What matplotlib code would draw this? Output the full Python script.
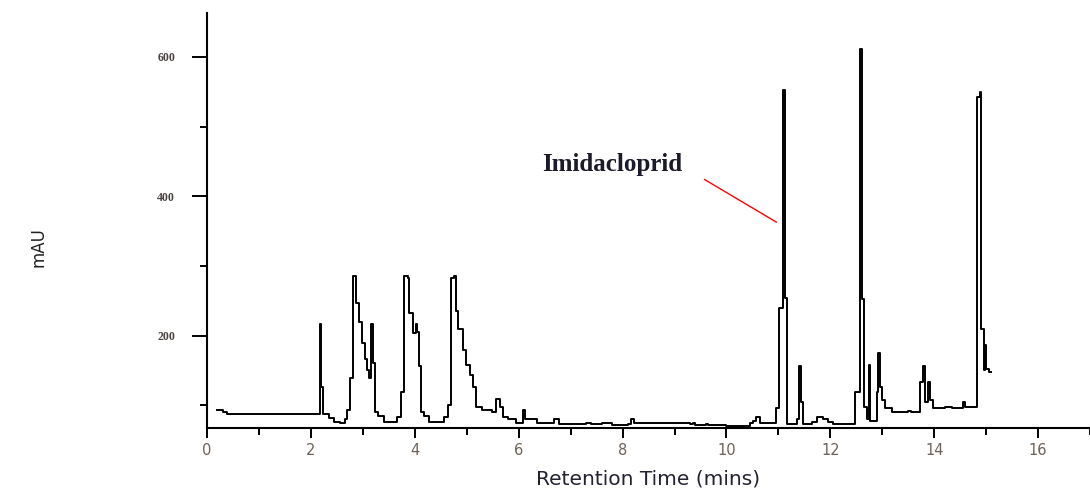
import matplotlib.pyplot as plt
from matplotlib.ticker import MultipleLocator

# chromatogram (time in mins, signal in mAU), step points
tiempo = [0.20, 0.30, 0.38, 2.17, 2.20, 2.24, 2.35, 2.45,
          2.55, 2.65, 2.69, 2.75, 2.81, 2.86, 2.92, 2.99,
          3.04, 3.08, 3.12, 3.16, 3.19, 3.24, 3.30, 3.40,
          3.66, 3.74, 3.80, 3.86, 3.89, 3.96, 4.02, 4.05,
          4.08, 4.12, 4.18, 4.28, 4.56, 4.63, 4.69, 4.75,
          4.79, 4.84, 4.92, 4.99, 5.06, 5.12, 5.18, 5.30,
          5.48, 5.57, 5.64, 5.69, 5.80, 5.95, 6.08, 6.12,
          6.35, 6.68, 6.78, 7.30, 7.40, 7.60, 7.80, 8.10,
          8.16, 8.22, 9.30, 9.35, 9.40, 9.60, 9.65, 10.00,
          10.45, 10.52, 10.56, 10.64, 10.96, 11.02, 11.08, 11.12,
          11.17, 11.36, 11.40, 11.43, 11.48, 11.65, 11.75, 11.85,
          11.95, 12.05, 12.48, 12.58, 12.61, 12.65, 12.70, 12.74,
          12.77, 12.89, 12.92, 12.95, 13.00, 13.06, 13.18, 13.50,
          13.56, 13.72, 13.79, 13.83, 13.88, 13.92, 13.97, 14.20,
          14.35, 14.55, 14.59, 14.83, 14.88, 14.91, 14.95, 14.97,
          15.00, 15.05, 15.10]
mau = [94, 91, 88, 217, 127, 88, 82, 77,
       75, 80, 94, 140, 285, 247, 220, 190,
       166, 151, 140, 217, 161, 90, 85, 77,
       84, 120, 285, 283, 233, 204, 217, 205,
       156, 90, 85, 77, 84, 101, 283, 285,
       235, 209, 180, 158, 144, 127, 98, 94,
       90, 110, 98, 84, 80, 75, 94, 80,
       75, 80, 74, 75, 74, 75, 72, 74,
       80, 75, 73, 75, 72, 74, 72, 71,
       75, 78, 84, 75, 97, 240, 553, 254,
       73, 80, 156, 105, 73, 76, 84, 80,
       76, 73, 120, 611, 252, 98, 80, 158,
       78, 120, 175, 127, 108, 97, 90, 92,
       90, 133, 156, 105, 133, 108, 97, 98,
       96, 105, 98, 543, 550, 209, 151, 187,
       152, 148, 148]

pico = "Imidacloprid"
pico_texto = (6.45, 445)
pico_flecha = [(9.58, 424), (10.96, 363)]

fig = plt.figure(figsize=(10.9, 4.94), dpi=100)
ax = fig.add_axes([0.19, 0.134, 0.81, 0.84])

ax.plot(tiempo, mau, color='black', lw=1.4, drawstyle='steps-post')

ax.plot([p[0] for p in pico_flecha], [p[1] for p in pico_flecha], color='red', lw=1)
ax.text(pico_texto[0], pico_texto[1], pico, family='Liberation Serif', fontweight='bold',
        fontsize=18, color='#1a1a2a', va='center', ha='left')

ax.set_xlim(0, 17)
ax.set_ylim(68, 663)
ax.spines['top'].set_visible(False)
ax.spines['right'].set_visible(False)
ax.spines['left'].set_linewidth(1.5)
ax.spines['bottom'].set_linewidth(1.5)

ax.xaxis.set_major_locator(MultipleLocator(2))
ax.xaxis.set_minor_locator(MultipleLocator(1))
ax.yaxis.set_major_locator(MultipleLocator(200))
ax.yaxis.set_minor_locator(MultipleLocator(100))
ax.tick_params(axis='x', which='major', length=7, width=1.4, pad=4, labelsize=10.5, labelcolor='#6e6258')
ax.tick_params(axis='x', which='minor', length=5, width=1.4)
ax.tick_params(axis='y', which='major', length=11, width=1.4, pad=12, labelsize=8.5, labelcolor='#4a4040')
ax.tick_params(axis='y', which='minor', length=5, width=1.4)
for lab in ax.get_yticklabels():
    lab.set_family('Liberation Serif')
    lab.set_fontweight('bold')

ax.set_xlabel("Retention Time (mins)", fontsize=14.5, color='#222233', labelpad=8)
fig.text(0.035, 0.5, "mAU", rotation=90, fontsize=12, color='#222222', va='center', ha='center')

fig.savefig('out.png')
